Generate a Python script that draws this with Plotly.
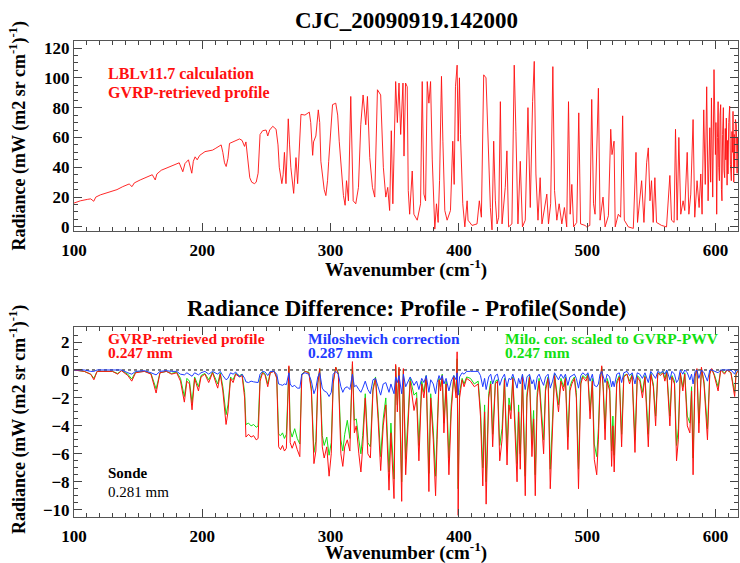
import plotly.graph_objects as go

# ---------------- data ----------------
wn_top = [100, 105, 110.7, 113, 115.4, 117, 120.6, 127, 133.5, 138, 141.3, 143, 145.2, 147,
          151.6, 156, 159.4, 161, 163.3, 164.6, 168, 172.4, 176, 180.1, 182, 184.8, 186.5,
          189.2, 191.8, 193, 194.4, 196, 198, 202.1, 208, 210, 213, 214.7, 216, 217.3, 218.6,
          220, 221.2, 225, 229, 231, 232.9, 234, 235.5, 237, 238.5, 240.6, 242, 243.5, 245,
          247, 249.7, 251, 252.5, 254.9, 257.5, 259, 260, 262, 263, 264, 265.2, 267, 268, 269,
          271.2, 273, 274.3, 275.6, 276.9, 280, 283.4, 284.5, 286, 286.7, 288.5, 290.4, 291.5,
          292.4, 295, 296.3, 297.6, 298.5, 299.4, 301.5, 304, 305.5, 306.7, 308.8, 310, 311.3,
          312.4, 313.9, 315.7, 317.6, 319.6, 321.7, 323.5, 325.3, 327.4, 328.7, 330.5, 332.6,
          334.4, 336.5, 339, 341.1, 343, 344.5, 346, 347.3, 348.5, 350.7, 352, 353.3, 354.6,
          356.4, 357.2, 358.4, 359.7, 360.5, 361.6, 363.6, 364.9, 367.5, 370.1, 371.4, 372.7,
          374, 375.3, 376.6, 377.9, 379.2, 380.5, 381.2, 382.5, 383.8, 384.9, 386.4, 387.5,
          389, 390.8, 393.4, 395.2, 396.3, 397.3, 398.6, 399.4, 400.4, 401.2, 403, 404.6,
          406.4, 407.1, 410.2, 414.1, 415.9, 417.5, 419.3, 421.1, 422.7, 424.5, 425.8, 427.1,
          428.4, 429.7, 431, 432.3, 433.6, 436.1, 437.4, 438.7, 441.3, 443.1, 444.4, 446,
          447.8, 449.5, 451.7, 453.8, 455.6, 457.4, 458.7, 460, 461.6, 463.3, 464.7, 468.5,
          469.8, 471.5, 473.2, 474.5, 476.3, 478.1, 480.2, 482.2, 484, 485.4, 486.7, 488,
          489.4, 491.8, 493.4, 494.8, 498.3, 499.6, 502, 503.5, 504.9, 506.1, 508.7, 510,
          512.3, 513.9, 516.5, 518.3, 519.3, 520.9, 521.8, 524.2, 526, 527.6, 528.9, 532,
          535.9, 538, 539.2, 542.4, 544.2, 546.3, 547.6, 548.9, 550.1, 551.4, 552.7, 554,
          557.9, 561.8, 564.4, 565.7, 567.7, 568.8, 570.1, 571.4, 572.9, 574.7, 576, 577.9,
          579.2, 580.7, 582.5, 583.8, 585.6, 587.2, 588.5, 589.5, 590.8, 592, 593.1, 594.2,
          595.5, 596.2, 596.8, 597.8, 598.8, 599.9, 600.3, 600.9, 601.5, 602, 602.5, 603,
          603.5, 604, 604.6, 605, 605.5, 606.1, 606.6, 607.1, 607.6, 608.0, 608.4, 609,
          609.4, 609.7, 610.3, 611, 611.6, 612.3, 612.8, 613.2, 613.6, 614.2, 614.6, 614.9,
          615.5, 616.2, 616.8, 617.2, 617.5]
rad_top = [16, 17.5, 18.5, 18.8, 17.2, 20, 21.5, 23.5, 25, 27, 28.5, 28.8, 27, 29.5,
           31.5, 33, 34.5, 35, 31.5, 35.5, 38, 39.5, 40.5, 42, 43, 37, 42.5,
           45, 36, 44, 47, 45, 48, 50.5, 51.5, 52.5, 54, 55, 50, 43, 40.5,
           46, 56, 57.5, 59, 58, 54, 57, 43, 33, 30, 29, 30, 36, 62,
           64.5, 65, 61, 65, 67.5, 65.5, 55, 40, 29, 35, 50, 29, 72.5, 55, 40,
           22.5, 46.5, 29, 51, 75.5, 75, 77, 70, 48, 57, 61, 78.5, 70,
           44, 25, 21, 31, 44, 57.5, 82, 83, 75, 57.5, 35, 21, 14.5,
           31, 17.5, 87.5, 17.5, 15.5, 26.5, 68.5, 88.5, 68.5, 87.5, 46.5, 26.5,
           20, 92, 88.5, 40, 20, 26.5, 11, 64.5, 15.5, 97.5, 70, 96.5, 62,
           96.5, 47.5, 96.5, 94, 24.5, 8.5, 37.5, 8.5, 4.5, 15.5, 97.5, 22,
           17.5, 97.5, 83, 97.5, 45.5, 17.5, -1.5, 15.5, 3, 31, 101, 57.5,
           11, 4.5, 11, 57.5, 28.5, 94, 108.5, 57.5, 100, 62, 15.5, 0,
           17.5, 4.5, 1, 2, 17.5, 6.5, 102, 100, 57.5, 13, -2, 57.5,
           17.5, 2, 6.5, 84, 2, 26.5, 51, 0, 2, 108.5, 64, 2,
           44, 0, 4.5, 80, 13, 84, 111, 35.5, 4.5, 33, 2, 22,
           2, 15.5, 107.5, 24.5, 4.5, 15.5, 2, 13, 0, 84, 8.5, 28.5,
           0, 3, 76.5, 2, 1, 0, 1, 85.5, 15.5, 8.5, 93, 4.5,
           20, 0, 7.5, 65.5, 48.5, 57.5, 0, 8.5, 6.5, 74.5, 4.5, 0,
           -1, 50, 3, 31, 3, 43, 53, 17.5, 31, 3, 33, 3,
           1, 0, 34.5, 4.5, 3, 65.5, 4.5, 60, 8.5, 17.5, 11, 50,
           8.5, 22, 72, 6.5, 31, 13, 35.5, 8.5, 78.5, 28.5, 94, 17.5,
           66.5, 30, 86.5, 20, 105.5, 48.5, 70, 8.5, 60, 84, 40, 31,
           75, 82, 25, 17.5, 62, 80, 38, 33, 66, 45, 73, 28,
           58, 35.5, 70, 81, 42, 31, 64, 50, 77.5, 30, 62, 40,
           72, 68.5, 36, 60, 51]

wn_diff = [100, 108, 113, 115.5, 118, 130, 134, 137, 142, 145, 148, 155, 160, 164, 167, 172,
           176, 180, 183, 186, 188, 190, 192, 194, 197, 199, 202, 205, 208, 212, 214, 216,
           218.5, 220, 222, 224, 226, 229, 231, 233, 234, 236, 238, 240, 242, 243.5, 245,
           247, 249, 251, 253, 256, 258, 259.5, 261, 262.5, 264, 265.5, 267.5, 268.5, 270,
           272, 274, 276, 277.5, 280, 283, 285, 287, 288.5, 290, 291.5, 293.5, 295, 297,
           298.8, 300.5, 302, 304, 306, 308, 309.5, 311, 313, 315, 317, 318.5, 320, 322,
           323.6, 325, 327, 329, 331, 333, 335, 337, 339, 341, 343, 345.5, 347, 349.4,
           350.7, 352, 353.3, 355.4, 356.7, 358.5, 360.6, 362, 365, 367, 368.8, 371, 372.7,
           374.5, 376.6, 378, 380, 381.8, 383, 384.5, 385.7, 387, 388.3, 390, 392.2, 394,
           396, 397.8, 398.6, 399.4, 400.5, 402.5, 404, 406, 409, 412, 415, 416.8, 418.6,
           420, 421.2, 423.2, 424.8, 426.3, 428.4, 430, 431.8, 433.6, 435.5, 437.5, 439,
           440.5, 442, 445.3, 446.5, 447.8, 449.5, 451.7, 453, 455, 456.9, 458.2, 459.5,
           461, 462.5, 464.5, 466, 467.5, 469.5, 471.2, 473, 474.5, 477.6, 479.5, 481.5,
           483, 484.9, 486.5, 488, 490, 491.5, 493.2, 495, 496.5, 499, 500.5, 502.2, 504,
           505.5, 507.4, 508.7, 510, 511.3, 512.5, 513.9, 515.5, 517.5, 519, 520, 521, 523,
           525, 526.8, 528.5, 531, 533, 535, 537.2, 539, 541, 543, 545, 547.6, 549.5, 551.5,
           553.3, 555, 557, 559, 560.5, 562, 564.4, 566, 568, 569.6, 571, 572.5, 574.5, 576,
           578, 580, 581.3, 582.5, 584, 585.5, 587, 589, 591, 593.7, 595.5, 597, 599, 602,
           604, 607, 609, 612, 614.9, 616, 618]
diff_gvrp = [0, -0.1, -0.3, -0.7, -0.1, -0.1, -0.3, -0.05, -0.4, -0.8, -0.2, -0.1, -0.3, -1.65, -0.2, -0.1,
             -0.3, -0.2, -0.8, -2.3, -0.8, -1.0, -2.85, -0.6, -1.5, -0.5, -0.3, -0.9, -0.2, -1.3, -0.3, -1.5,
             -3.9, -3.0, -0.6, -0.9, -0.3, -0.5, -0.4, -2.0, -4.8, -4.6, -4.8, -4.7, -5.0, -4.9, -0.8,
             -0.2, -0.4, -1.2, -0.2, -0.1, -0.6, -5.5, -5.7, -5.4, -5.8, -5.6, 0.3, -5.2, -5.6,
             -5.1, -5.7, -6.2, -0.4, -0.1, -0.2, -1.5, -6.7, -5.8, -1.0, 0.1, -5.5, -6.3, -5.5,
             -7.6, -6.0, -1.0, 0.2, -0.3, -6.0, -6.9, -5.5, -5.0, -5.8, 0.6, -4.5, -4.0, -6.0,
             -7.3, -5.5, -2.0, -6.0, -6.3, -1.5, -0.6, -3.5, -7.2, -4.0, -2.5, -8.6, -4.5, -9.2,
             0.4, -3.0, 0.2, -9.4, 0.1, -7.5, -4.0, -0.8, -2.9, -2.0, -6.5, -1.0, -2.0,
             -0.5, -8.7, -2.0, -5.0, -9.0, -5.0, -0.7, -1.5, -0.4, -4.5, -1.0, -7.5, -3.0,
             -0.5, -2.0, 1.3, -10.4, -2.0, -0.7, -1.2, -0.6, -0.8, -1.2, -1.0, -3.3, -8.3,
             -3.0, -9.6, -2.0, -1.0, -5.5, -1.0, -0.8, -6.5, -5.0, -0.7, -6.8, -2.5,
             -3.5, -0.6, -8.0, -3.0, -7.1, -0.5, -9.0, -2.0, -0.5, -6.2, -3.5, -9.0,
             -2.0, -0.8, -3.5, -6.0, -1.5, -0.6, -8.5, -4.5, -0.4, -3.0, -0.8, -1.5,
             -0.6, -5.7, -1.5, -1.0, -0.6, -2.0, -8.5, -1.0, -0.5, -0.8, -0.4, -3.5, -0.8,
             -6.4, -7.5, -5.0, -1.0, 0.3, -1.5, -5.0, -0.8, -1.5, -6.9, -4.0, -7.3, -1.0,
             -0.5, -5.5, -0.5, -0.3, -1.0, -0.4, -5.9, -0.5, -0.8, -2.0, -0.5, -5.5, -0.3, -1.2,
             -4.0, -0.2, -0.4, -0.2, -0.8, -0.2, -4.0, -0.5, -1.0, -6.5, -5.0, -0.2, -1.5, -0.3,
             -4.0, -4.5, -1.5, -7.5, -0.5, 0.1, -4.5, 0.2, -1.0, -5.0, -0.3, 0.1, -0.4, -1.5,
             0.0, -0.3, 0.0, -0.2, -1.9, -0.3, 0]
diff_milo_scaled = [0, -0.1, -0.3, -0.6, -0.1, -0.1, -0.25, -0.05, -0.3, -0.65, -0.15, -0.1, -0.25, -1.35, -0.2, -0.1,
                    -0.25, -0.15, -0.6, -1.9, -0.6, -0.8, -2.35, -0.5, -1.2, -0.4, -0.25, -0.7, -0.15, -1.0, -0.2, -1.2,
                    -3.2, -2.5, -0.5, -0.7, -0.25, -0.4, -0.3, -1.6, -3.9, -3.8, -4.0, -3.9, -4.1, -4.0, -0.6,
                    -0.15, -0.3, -1.0, -0.15, -0.1, -0.5, -4.6, -4.7, -4.5, -4.9, -4.6, 0.2, -4.3, -4.8,
                    -4.2, -4.9, -5.3, -0.3, -0.1, -0.15, -1.3, -5.9, -5.1, -0.9, 0.1, -4.7, -5.4, -4.8,
                    -6.1, -5.2, -0.8, 0.2, -0.2, -5.0, -5.8, -4.6, -3.6, -4.9, 0.4, -3.6, -3.5, -5.0,
                    -6.0, -4.7, -1.7, -5.2, -5.5, -1.3, -0.5, -3.0, -6.2, -3.5, -2.0, -7.3, -3.8, -7.8,
                    0.3, -2.5, 0.1, -8.0, 0.0, -6.4, -3.4, -0.6, -1.8, -1.6, -5.4, -0.8, -1.6,
                    -0.4, -7.4, -1.7, -4.3, -7.6, -4.2, -0.6, -1.2, -0.3, -3.8, -0.8, -6.3, -2.5,
                    -0.4, -1.6, 0.8, -8.5, -1.6, -0.6, -1.0, -0.5, -0.6, -1.0, -0.8, -2.8, -7.0,
                    -2.5, -8.0, -1.7, -0.8, -4.6, -0.8, -0.7, -5.4, -4.2, -0.6, -5.7, -2.0,
                    -2.9, -0.5, -6.7, -2.5, -6.0, -0.4, -7.6, -1.7, -0.4, -5.2, -2.9, -7.5,
                    -1.6, -0.6, -2.9, -5.0, -1.2, -0.5, -7.1, -3.8, -0.3, -2.5, -0.6, -1.2,
                    -0.5, -4.8, -1.2, -0.8, -0.5, -1.6, -7.1, -0.8, -0.4, -0.6, -0.3, -2.9, -0.6,
                    -5.3, -6.2, -4.2, -0.8, 0.2, -1.2, -4.2, -0.6, -1.2, -5.8, -3.3, -6.1, -0.8,
                    -0.4, -4.6, -0.4, -0.3, -0.8, -0.3, -5.0, -0.4, -0.6, -1.6, -0.4, -4.6, -0.2, -1.0,
                    -3.3, -0.2, -0.3, -0.1, -0.6, -0.1, -3.3, -0.4, -0.8, -5.4, -4.2, -0.2, -1.2, -0.2,
                    -3.3, -3.8, -1.2, -6.3, -0.4, 0.05, -3.8, 0.1, -0.8, -4.2, -0.2, 0.05, -0.3, -1.2,
                    0.0, -0.2, 0.0, -0.2, -1.6, -0.2, 0]
diff_milo = [0, 0, -0.1, -0.1, 0, 0, -0.05, 0, -0.2, -0.3, -0.1, -0.05, -0.2, -0.35, -0.1, -0.05,
             -0.1, -0.1, -0.3, -0.35, -0.2, -0.3, -0.45, -0.2, -0.35, -0.2, -0.1, -0.3, -0.1, -0.3, -0.1, -0.4,
             -0.7, -0.6, -0.2, -0.3, -0.15, -0.5, -0.3, -0.6, -0.85, -0.9, -0.8, -0.85, -0.85, -0.9, -0.3,
             -0.1, -0.15, -0.4, -0.1, -0.1, -0.3, -1.0, -1.05, -1.1, -1.0, -1.05, -0.2, -1.0, -1.2,
             -1.1, -1.3, -1.3, -0.3, -0.2, -0.3, -0.8, -1.7, -1.3, -0.5, -0.2, -1.3, -1.5, -1.6,
             -1.9, -1.6, -0.3, -0.1, -0.3, -1.2, -1.6, -1.3, -1.2, -1.4, -0.3, -1.2, -1.1, -1.4,
             -1.6, -1.3, -0.8, -1.4, -1.7, -0.7, -0.6, -1.2, -1.8, -1.0, -0.9, -1.6, -1.0, -1.7,
             -0.5, -0.9, -0.4, -1.7, -0.3, -1.2, -0.8, -0.5, -1.1, -0.8, -1.4, -0.6, -0.9,
             -0.4, -1.6, -0.7, -1.0, -1.7, -0.9, -0.4, -0.7, -0.4, -1.0, -0.6, -1.5, -0.8,
             -0.4, -0.7, -0.2, -1.8, -0.5, -0.2, -0.3, -0.1, -0.1, -0.1, -0.1, -0.4, -1.2,
             -0.6, -1.4, -0.5, -0.3, -1.0, -0.4, -0.3, -1.1, -0.6, -0.3, -1.2, -0.6,
             -0.7, -0.3, -1.3, -0.6, -1.0, -0.3, -1.4, -0.5, -0.3, -1.0, -0.7, -1.4,
             -0.5, -0.3, -0.8, -1.1, -0.5, -0.3, -1.3, -0.8, -0.2, -0.7, -0.3, -0.6,
             -0.3, -1.1, -0.5, -0.4, -0.3, -0.6, -1.3, -0.4, -0.2, -0.4, -0.2, -0.8, -0.3,
             -1.1, -1.2, -1.0, -0.3, -0.1, -0.5, -0.9, -0.3, -0.5, -1.2, -0.8, -1.2, -0.3,
             -0.2, -0.9, -0.2, -0.1, -0.4, -0.2, -1.0, -0.2, -0.3, -0.6, -0.2, -0.9, -0.1, -0.4,
             -0.6, -0.1, -0.2, -0.1, -0.3, 0, -0.7, -0.1, -0.3, -0.9, -0.7, 0, -0.3, 0,
             -0.2, -0.7, -0.3, -1.0, -0.1, 0, -0.6, 0, -0.2, -0.8, 0, 0, -0.1, -0.2,
             0, 0, 0, 0, -0.3, 0, 0]

x_ticks = [100, 200, 300, 400, 500, 600]
y_ticks_top = [0, 20, 40, 60, 80, 100, 120]
y_ticks_bot = [-10, -8, -6, -4, -2, 0, 2]

# ---------------- styling ----------------
SERIF = "Liberation Serif"
RED = "#ff1010"
BLUE = "#1f3cff"
GREEN = "#12e012"

fig = go.Figure()
fig.add_trace(go.Scatter(x=wn_top, y=rad_top, mode="lines", line=dict(color=RED, width=0.9),
                         xaxis="x", yaxis="y", showlegend=False))
fig.add_trace(go.Scatter(x=wn_diff, y=diff_milo_scaled, mode="lines", line=dict(color=GREEN, width=1),
                         xaxis="x2", yaxis="y2", showlegend=False))
fig.add_trace(go.Scatter(x=wn_diff, y=diff_gvrp, mode="lines", line=dict(color=RED, width=1),
                         xaxis="x2", yaxis="y2", showlegend=False))
fig.add_trace(go.Scatter(x=wn_diff, y=diff_milo, mode="lines", line=dict(color=BLUE, width=1),
                         xaxis="x2", yaxis="y2", showlegend=False))

tickfont = dict(family=SERIF, size=17, color="black", weight="bold")
common_x = dict(range=[100, 617.5], tickvals=x_ticks, ticks="inside", ticklen=8, tickcolor="#444",
                showline=True, linecolor="#555", linewidth=1, mirror="ticks", showgrid=False,
                zeroline=False, tickfont=tickfont, automargin=False, ticklabelstandoff=4,
                minor=dict(ticks="inside", ticklen=4, dtick=10, tickcolor="#444", showgrid=False))
common_y = dict(ticks="inside", ticklen=8, tickcolor="#444", showline=True, linecolor="#555",
                linewidth=1, mirror="ticks", showgrid=False, zeroline=False, tickfont=tickfont,
                automargin=False)

fig.update_layout(
    width=740, height=563,
    margin=dict(l=74, r=2, t=41, b=46, autoexpand=False),
    paper_bgcolor="white", plot_bgcolor="white",
    xaxis=dict(domain=[0, 1], anchor="y", **common_x),
    yaxis=dict(domain=[0.601, 1], anchor="x", range=[-2.7, 124.7], tickvals=y_ticks_top,
               minor=dict(ticks="inside", ticklen=4, dtick=5, tickcolor="#444", showgrid=False),
               **common_y),
    xaxis2=dict(domain=[0, 1], anchor="y2", **common_x),
    yaxis2=dict(domain=[0, 0.399], anchor="x2", range=[-10.52, 3.07], tickvals=y_ticks_bot,
                minor=dict(ticks="inside", ticklen=4, dtick=0.5, tickcolor="#444", showgrid=False),
                **common_y),
    shapes=[dict(type="line", xref="x2 domain", yref="y2", x0=0, x1=1, y0=0, y1=0,
                 line=dict(color="black", width=1, dash="dot"), layer="below")],
)

def ann(text, x, y, size, color="black", bold=True, xanchor="left", angle=0):
    fig.add_annotation(text=text, x=x, y=y, xref="paper", yref="paper", showarrow=False,
                       xanchor=xanchor, yanchor="middle", textangle=angle,
                       font=dict(family=SERIF, size=size, color=color,
                                 weight="bold" if bold else "normal"))

ylab = "Radiance (mW (m2 sr cm<sup>-1</sup>)<sup>-1</sup>)"
xlab = "Wavenumber (cm<sup>-1</sup>)"
ann("CJC_20090919.142000", 0.5, 1.044, 23, xanchor="center")
ann(xlab, 0.5, 0.522, 19, xanchor="center")
ann("Radiance Difference: Profile - Profile(Sonde)", 0.5, 0.439, 23, xanchor="center")
ann(xlab, 0.5, -0.073, 19, xanchor="center")
ann(ylab, -0.084, 0.80, 18, xanchor="center", angle=-90)
ann(ylab, -0.084, 0.204, 18, xanchor="center", angle=-90)
ann("LBLv11.7 calculation", 0.048, 0.931, 16, RED)
ann("GVRP-retrieved profile", 0.048, 0.891, 16, RED)
ann("GVRP-retrieved profile", 0.048, 0.374, 15.5, RED)
ann("0.247 mm", 0.048, 0.346, 15.5, RED)
ann("Miloshevich correction", 0.349, 0.374, 15.5, BLUE)
ann("0.287 mm", 0.349, 0.346, 15.5, BLUE)
ann("Milo. cor. scaled to GVRP-PWV", 0.646, 0.374, 15.5, GREEN)
ann("0.247 mm", 0.646, 0.346, 15.5, GREEN)
ann("Sonde", 0.048, 0.092, 15)
ann("0.281 mm", 0.048, 0.053, 15, bold=False)

fig.write_html("out.html", config={"displayModeBar": False},
               post_script="document.body.style.margin='0px';")
